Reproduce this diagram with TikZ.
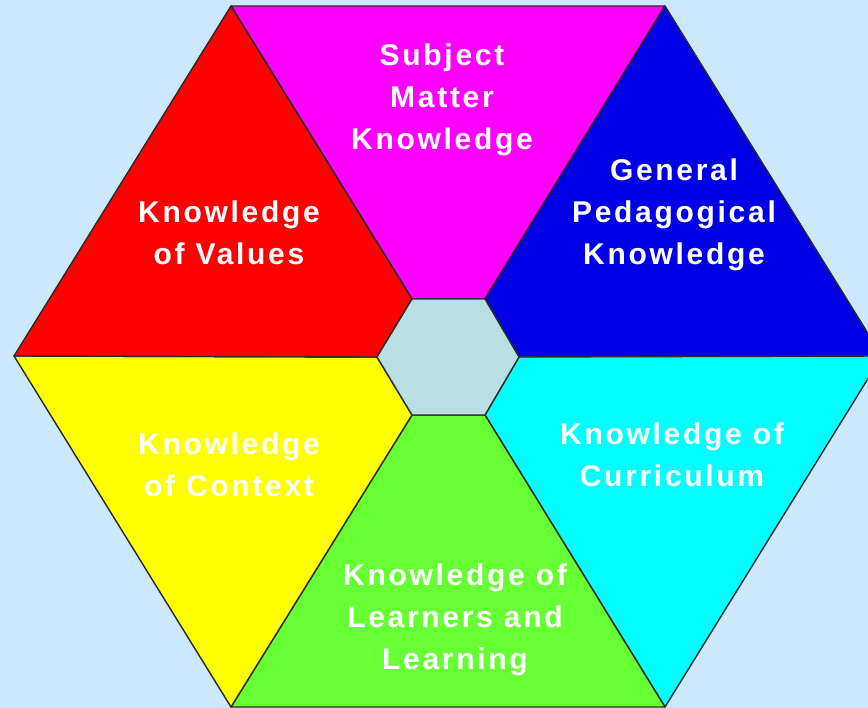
\documentclass[tikz,border=0pt]{standalone}
\usepackage{fontspec}
\usepackage{tikz}
\usetikzlibrary{positioning,calc}
\newfontfamily\lblfont{Liberation Sans}[LetterSpace=9]

\definecolor{bg}{HTML}{CCE8FC}
\definecolor{hub}{HTML}{B9DFE2}
\definecolor{edge}{HTML}{2A2A2A}
\definecolor{smk}{HTML}{FF00FF}
\definecolor{gpk}{HTML}{0000E6}
\definecolor{kcu}{HTML}{00FFFF}
\definecolor{kll}{HTML}{66FF33}
\definecolor{kco}{HTML}{FFFF00}
\definecolor{kva}{HTML}{FF0000}

\begin{document}
\begin{tikzpicture}[x=1pt,y=-1pt,
	lbl/.style={text=white,align=center,font=\lblfont\bfseries\fontsize{30}{42}\selectfont},
	part/.style={draw=edge,line width=1.4pt,line join=round}]
	\useasboundingbox (0,0) rectangle (868,708);
	\fill[bg] (0,0) rectangle (868,708);
	\clip (0,0) rectangle (868,708);
	% outer corners
	\coordinate (o1) at (231,6);
	\coordinate (o2) at (665,6);
	\coordinate (o3) at (882,356);
	\coordinate (o4) at (665,707);
	\coordinate (o5) at (231,707);
	\coordinate (o6) at (14,356);
	% inner corners
	\coordinate (i1) at (412,299);
	\coordinate (i2) at (485,299);
	\coordinate (i3) at (519,357);
	\coordinate (i4) at (485,415);
	\coordinate (i5) at (412,415);
	\coordinate (i6) at (377,357);
	% the six parts
	\filldraw[part,fill=smk] (o1) -- (o2) -- (i2) -- (i1) -- cycle;
	\filldraw[part,fill=gpk] (o2) -- (o3) -- (i3) -- (i2) -- cycle;
	\filldraw[part,fill=kcu] (o3) -- (o4) -- (i4) -- (i3) -- cycle;
	\filldraw[part,fill=kll] (o4) -- (o5) -- (i5) -- (i4) -- cycle;
	\filldraw[part,fill=kco] (o5) -- (o6) -- (i6) -- (i5) -- cycle;
	\filldraw[part,fill=kva] (o6) -- (o1) -- (i1) -- (i6) -- cycle;
	\filldraw[part,fill=hub] (i1) -- (i2) -- (i3) -- (i4) -- (i5) -- (i6) -- cycle;
	% labels
	\node[lbl] (a) at (442,100) {Subject\\Matter\\Knowledge};
	\node[lbl] (b) at (674,215) {General\\Pedagogical\\Knowledge};
	\node[lbl] (c) at (672,455) {Knowledge of\\Curriculum};
	\node[lbl] (d) at (455,620) {Knowledge of\\Learners and\\Learning};
	\node[lbl] (e) at (229,465) {Knowledge\\of Context};
	\node[lbl] (f) at (229,233) {Knowledge\\of Values};
\end{tikzpicture}
\end{document}
